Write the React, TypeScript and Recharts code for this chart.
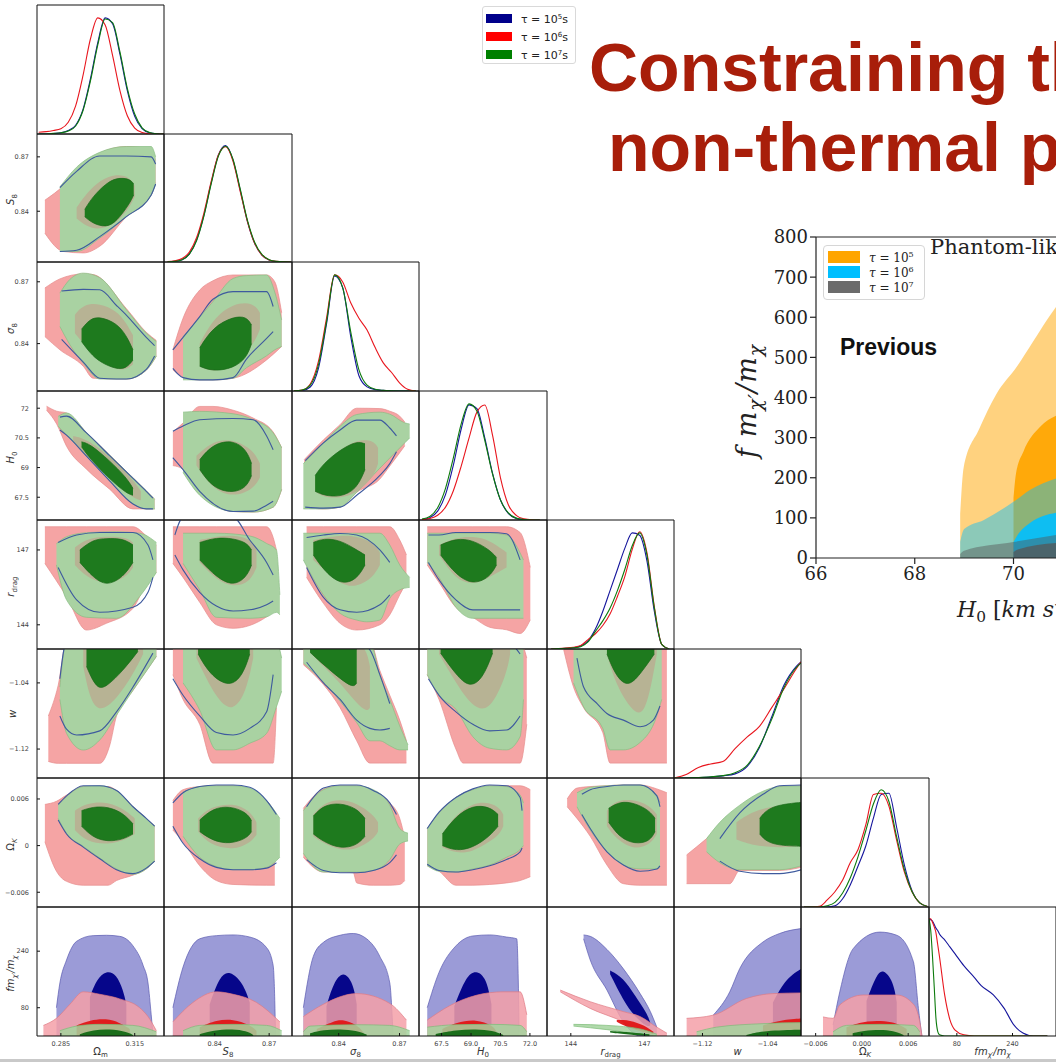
import React from 'react';
import { ComposedChart, LineChart, Line, Area, XAxis, YAxis } from 'recharts';

type Range = [number, number, number];
type Contours = { [key: string]: Range[] };

// panel edges of the triangle grid
const COL_X = [37, 164, 292, 419, 547, 674, 801, 929, 1056];
const ROW_Y = [5, 134, 262, 391, 520, 649, 778, 907, 1036];

// parameter order: Ωm, S8, σ8, H0, r_drag, w, ΩK, f mχ'/mχ
const DOMAINS: [number, number][] = [
  [0.2753, 0.3269], [0.812, 0.8826], [0.817, 0.8796], [66.35, 72.87],
  [143.03, 148.2], [-1.155, -0.999], [-0.0079, 0.0087], [0, 365],
];
const TICKS = [
  [0.285, 0.315], [0.84, 0.87], [0.84, 0.87], [67.5, 69, 70.5, 72],
  [144, 147], [-1.12, -1.04], [-0.006, 0, 0.006], [80, 240],
];
const X_TICK_LABELS = [
  ['0.285', '0.315'], ['0.84', '0.87'], ['0.84', '0.87'], ['67.5', '69.0', '70.5', '72.0'],
  ['144', '147'], ['−1.12', '−1.04'], ['−0.006', '0.000', '0.006'], ['80', '240'],
];
const Y_TICK_LABELS = [
  [], ['0.84', '0.87'], ['0.84', '0.87'], ['67.5', '69', '70.5', '72'],
  ['144', '147'], ['−1.12', '−1.04'], ['−0.006', '0', '0.006'], ['80', '240'],
];

// ---- 1D marginal posteriors (b: τ=1e5, r: τ=1e6, g: τ=1e7) ----
const om_x = [0.276, 0.279, 0.282, 0.285, 0.288, 0.291, 0.294, 0.297, 0.3, 0.303, 0.306, 0.309, 0.312, 0.315, 0.318, 0.321, 0.324, 0.327];
const om_b = [0, 0, 0.004, 0.01, 0.03, 0.075, 0.21, 0.47, 0.78, 0.99, 0.94, 0.68, 0.37, 0.15, 0.045, 0.01, 0.002, 0];
const om_r = [0.015, 0.02, 0.03, 0.045, 0.1, 0.24, 0.5, 0.81, 0.99, 0.93, 0.67, 0.37, 0.155, 0.05, 0.012, 0.002, 0, 0];
const om_g = [0, 0, 0.005, 0.01, 0.025, 0.068, 0.2, 0.45, 0.76, 0.98, 0.95, 0.7, 0.39, 0.17, 0.053, 0.013, 0.002, 0];

const s8_x = [0.814, 0.818, 0.822, 0.826, 0.83, 0.834, 0.838, 0.842, 0.846, 0.85, 0.854, 0.858, 0.862, 0.866, 0.87, 0.874, 0.878, 0.882];
const s8_b = [0.001, 0.005, 0.02, 0.07, 0.19, 0.4, 0.68, 0.92, 1.0, 0.88, 0.62, 0.35, 0.16, 0.06, 0.017, 0.004, 0.001, 0];
const s8_r = [0.003, 0.01, 0.03, 0.085, 0.21, 0.42, 0.69, 0.92, 0.99, 0.87, 0.61, 0.35, 0.16, 0.06, 0.018, 0.005, 0.001, 0];
const s8_g = [0.001, 0.005, 0.02, 0.068, 0.185, 0.395, 0.67, 0.91, 0.995, 0.885, 0.63, 0.36, 0.17, 0.065, 0.02, 0.005, 0.001, 0];

const sg_x = [0.818, 0.822, 0.826, 0.83, 0.834, 0.838, 0.842, 0.846, 0.85, 0.854, 0.858, 0.862, 0.866, 0.87, 0.874, 0.878];
const sg_b = [0, 0.004, 0.034, 0.19, 0.57, 0.98, 0.88, 0.46, 0.13, 0.035, 0.012, 0.005, 0, 0, 0, 0];
const sg_r = [0.001, 0.008, 0.06, 0.25, 0.62, 0.99, 0.93, 0.75, 0.62, 0.52, 0.37, 0.24, 0.16, 0.07, 0.015, 0];
const sg_g = [0.001, 0.008, 0.05, 0.22, 0.59, 0.99, 0.88, 0.5, 0.18, 0.05, 0.015, 0.005, 0.001, 0, 0, 0];

const h0_x = [66.5, 66.9, 67.3, 67.7, 68.1, 68.5, 68.9, 69.3, 69.7, 70.1, 70.5, 70.9, 71.3, 71.7, 72.1, 72.5];
const h0_b = [0.004, 0.02, 0.076, 0.216, 0.468, 0.776, 0.982, 0.95, 0.7, 0.395, 0.17, 0.056, 0.014, 0.003, 0, 0];
const h0_r = [0.003, 0.012, 0.04, 0.11, 0.25, 0.46, 0.7, 0.92, 0.98, 0.72, 0.36, 0.13, 0.04, 0.01, 0.002, 0];
const h0_g = [0.008, 0.03, 0.105, 0.27, 0.53, 0.82, 0.99, 0.93, 0.68, 0.39, 0.17, 0.06, 0.016, 0.004, 0, 0];

const rd_x = [143.2, 143.5, 143.8, 144.1, 144.4, 144.7, 145.0, 145.3, 145.6, 145.9, 146.2, 146.5, 146.8, 147.1, 147.4, 147.7, 148.0];
const rd_b = [0, 0.002, 0.005, 0.01, 0.025, 0.07, 0.17, 0.32, 0.5, 0.68, 0.86, 0.99, 0.97, 0.75, 0.32, 0.04, 0];
const rd_r = [0, 0.003, 0.008, 0.015, 0.03, 0.08, 0.13, 0.2, 0.3, 0.45, 0.62, 0.85, 1.0, 0.82, 0.36, 0.04, 0];
const rd_g = [0, 0.003, 0.006, 0.01, 0.02, 0.06, 0.15, 0.24, 0.35, 0.5, 0.68, 0.88, 0.99, 0.8, 0.35, 0.04, 0];

const w_x = [-1.155, -1.14, -1.125, -1.11, -1.095, -1.08, -1.065, -1.05, -1.035, -1.02, -1.005, -0.999];
const w_b = [0, 0, 0.003, 0.008, 0.018, 0.035, 0.1, 0.26, 0.52, 0.79, 0.95, 0.99];
const w_r = [0, 0.03, 0.09, 0.12, 0.14, 0.25, 0.35, 0.44, 0.6, 0.76, 0.93, 0.99];
const w_g = [0, 0, 0.004, 0.01, 0.02, 0.045, 0.11, 0.27, 0.5, 0.77, 0.94, 0.98];

const ok_x = [-0.0075, -0.0065, -0.0055, -0.0045, -0.0035, -0.0025, -0.0015, -0.0005, 0.0005, 0.0015, 0.0025, 0.0035, 0.0045, 0.0055, 0.0065, 0.0075, 0.0085];
const ok_b = [0, 0, 0, 0, 0.01, 0.07, 0.19, 0.35, 0.52, 0.76, 0.96, 0.97, 0.68, 0.36, 0.14, 0.035, 0.005];
const ok_r = [0, 0, 0.005, 0.06, 0.13, 0.23, 0.38, 0.49, 0.7, 0.96, 0.97, 0.86, 0.57, 0.3, 0.13, 0.035, 0.005];
const ok_g = [0, 0, 0, 0.01, 0.04, 0.12, 0.25, 0.43, 0.65, 0.88, 1.0, 0.9, 0.6, 0.32, 0.13, 0.035, 0.005];

const fm_x = [0, 5, 10, 15, 20, 25, 30, 45, 60, 75, 100, 130, 150, 185, 215, 245, 270, 300, 340];
const fm_b = [1.0, 0.99, 0.98, 0.95, 0.92, 0.9, 0.87, 0.82, 0.76, 0.7, 0.6, 0.5, 0.43, 0.35, 0.24, 0.09, 0.025, 0, 0];
const fm_r = [1.0, 1.0, 0.97, 0.93, 0.88, 0.78, 0.68, 0.35, 0.14, 0.05, 0.01, 0, 0, 0, 0, 0, 0, 0, 0];
const fm_g = [1.0, 0.9, 0.68, 0.42, 0.15, 0.04, 0.01, 0, 0, 0, 0, 0, 0, 0, 0, 0, 0, 0, 0];

const MARGINALS = [
  [om_x, om_b, om_r, om_g], [s8_x, s8_b, s8_r, s8_g], [sg_x, sg_b, sg_r, sg_g], [h0_x, h0_b, h0_r, h0_g],
  [rd_x, rd_b, rd_r, rd_g], [w_x, w_b, w_r, w_g], [ok_x, ok_b, ok_r, ok_g], [fm_x, fm_b, fm_r, fm_g],
];

// ---- 2D contours: [x, lower, upper]; *2 = 95% region, *1 = 68% region ----
const j_s8_om: Contours = {
  r2: [[0.2785, 0.8279, 0.8461], [0.286, 0.8178, 0.854], [0.2941, 0.817, 0.8662], [0.3008, 0.8207, 0.872], [0.3116, 0.837, 0.8757], [0.3217, 0.849, 0.874], [0.3235, 0.856, 0.868]],
  g2: [[0.2846, 0.8178, 0.8534], [0.2914, 0.8178, 0.8643], [0.3008, 0.8252, 0.8725], [0.3116, 0.837, 0.8757], [0.3217, 0.8489, 0.8757], [0.3235, 0.855, 0.87]],
  r1: [[0.2914, 0.836, 0.842], [0.2954, 0.8315, 0.8498], [0.3008, 0.8297, 0.8571], [0.3076, 0.8333, 0.8607], [0.313, 0.8424, 0.8589], [0.315, 0.848, 0.854]],
  g1: [[0.2947, 0.837, 0.841], [0.2979, 0.8333, 0.848], [0.3033, 0.831, 0.8553], [0.3076, 0.8342, 0.8585], [0.313, 0.8443, 0.858], [0.3146, 0.849, 0.855]],
  b2: [[0.2846, 0.8178, 0.853], [0.2914, 0.8185, 0.862], [0.3008, 0.826, 0.8705], [0.3116, 0.837, 0.8705], [0.3217, 0.849, 0.87], [0.3235, 0.855, 0.866]],
};
const j_sg_om: Contours = {
  r2: [[0.2785, 0.8434, 0.867], [0.2846, 0.837, 0.8714], [0.2941, 0.829, 0.8738], [0.2981, 0.8232, 0.8735], [0.3116, 0.8228, 0.857], [0.3197, 0.8271, 0.8455], [0.3238, 0.834, 0.8415]],
  g2: [[0.2846, 0.8483, 0.8645], [0.2887, 0.8394, 0.8712], [0.2941, 0.8305, 0.8742], [0.3008, 0.8228, 0.872], [0.3116, 0.8228, 0.8565], [0.3197, 0.8271, 0.8451], [0.3238, 0.834, 0.841]],
  r1: [[0.2907, 0.845, 0.854], [0.2941, 0.84, 0.859], [0.3008, 0.832, 0.8596], [0.3076, 0.8273, 0.856], [0.3116, 0.8273, 0.85], [0.3143, 0.83, 0.844]],
  g1: [[0.2934, 0.841, 0.847], [0.2968, 0.8355, 0.852], [0.3008, 0.831, 0.8531], [0.3076, 0.8275, 0.85], [0.3116, 0.828, 0.844], [0.3143, 0.832, 0.837]],
  b2: [[0.2853, 0.842, 0.8655], [0.2941, 0.831, 0.8663], [0.3008, 0.8232, 0.8661], [0.3076, 0.8228, 0.8585], [0.3116, 0.8228, 0.8538], [0.3197, 0.8275, 0.843], [0.3231, 0.834, 0.839]],
};
const j_sg_s8: Contours = {
  r2: [[0.8169, 0.8273, 0.837], [0.8225, 0.8238, 0.8523], [0.8317, 0.8224, 0.866], [0.839, 0.8224, 0.8705], [0.8501, 0.8232, 0.8733], [0.8686, 0.8321, 0.8733], [0.8731, 0.8355, 0.87], [0.8769, 0.8386, 0.855]],
  g2: [[0.8225, 0.8224, 0.8434], [0.8317, 0.8224, 0.8528], [0.839, 0.8224, 0.8604], [0.8501, 0.8232, 0.8716], [0.8575, 0.8283, 0.873], [0.8686, 0.8341, 0.8733], [0.8731, 0.837, 0.865], [0.8769, 0.8386, 0.8515]],
  r1: [[0.8317, 0.829, 0.84], [0.839, 0.826, 0.852], [0.8501, 0.829, 0.8595], [0.8612, 0.839, 0.86], [0.8649, 0.847, 0.855]],
  g1: [[0.8317, 0.829, 0.838], [0.839, 0.8265, 0.848], [0.8501, 0.828, 0.8531], [0.8575, 0.833, 0.8531], [0.8603, 0.84, 0.849]],
  b2: [[0.8169, 0.828, 0.837], [0.8225, 0.8235, 0.843], [0.8317, 0.8224, 0.8531], [0.839, 0.8224, 0.8615], [0.8501, 0.8235, 0.8652], [0.8575, 0.8325, 0.8652], [0.8686, 0.8425, 0.8652], [0.8722, 0.8458, 0.858]],
};
const j_h0_om: Contours = {
  r2: [[0.2792, 71.9, 72.1], [0.2833, 71.2, 71.85], [0.2873, 70.08, 71.76], [0.2954, 68.92, 70.77], [0.3048, 67.91, 69.63], [0.3143, 66.91, 68.48], [0.3231, 66.91, 67.4]],
  g2: [[0.2839, 71.09, 71.59], [0.2873, 70.64, 71.76], [0.2954, 69.58, 70.77], [0.3048, 68.33, 69.63], [0.3143, 67.16, 68.48], [0.3197, 66.91, 67.83], [0.3231, 66.91, 67.4]],
  r1: [[0.29, 70.35, 70.6], [0.2954, 69.6, 70.45], [0.3048, 68.45, 69.6], [0.3143, 67.45, 68.4], [0.3175, 67.35, 67.8]],
  g1: [[0.2934, 70.05, 70.3], [0.2968, 69.45, 70.2], [0.3048, 68.42, 69.35], [0.3116, 67.7, 68.5], [0.3143, 67.6, 67.95]],
  b2: [[0.2846, 70.9, 71.55], [0.2873, 70.64, 71.6], [0.2954, 69.58, 70.75], [0.3048, 68.33, 69.6], [0.3143, 67.16, 68.45], [0.3197, 66.91, 67.8], [0.3224, 66.91, 67.45]],
};
const j_h0_s8: Contours = {
  r2: [[0.8169, 69.1, 70.8], [0.8225, 68.92, 71.25], [0.8317, 67.75, 72.09], [0.839, 67.16, 72.09], [0.8501, 66.78, 71.9], [0.8612, 66.75, 71.5], [0.8722, 67.0, 70.8], [0.8769, 67.9, 70.0]],
  g2: [[0.8225, 68.75, 71.8], [0.8317, 67.6, 71.84], [0.8501, 66.78, 71.72], [0.8612, 66.75, 71.42], [0.8722, 67.0, 70.76], [0.8769, 67.9, 70.0]],
  r1: [[0.8299, 69.1, 69.6], [0.839, 67.9, 70.35], [0.8501, 67.5, 70.45], [0.8612, 67.9, 69.9], [0.8649, 68.5, 69.2]],
  g1: [[0.8317, 68.9, 69.4], [0.839, 67.95, 70.2], [0.8501, 67.7, 70.4], [0.8575, 68.0, 69.9], [0.8603, 68.6, 69.2]],
  b2: [[0.8169, 69.5, 70.84], [0.8225, 68.9, 71.1], [0.8317, 67.8, 71.42], [0.8501, 66.78, 71.48], [0.8612, 66.8, 71.42], [0.8686, 67.1, 70.6], [0.8722, 67.3, 69.9]],
};
const j_h0_sg: Contours = {
  r2: [[0.823, 67.0, 69.4], [0.8325, 66.91, 70.4], [0.8407, 67.0, 71.17], [0.8489, 67.75, 72.0], [0.8603, 68.42, 71.98], [0.8652, 69.08, 71.85], [0.8701, 69.75, 71.6], [0.8726, 70.1, 71.3]],
  g2: [[0.8226, 66.91, 69.2], [0.8284, 66.91, 69.8], [0.8325, 66.91, 70.25], [0.8407, 67.0, 71.09], [0.8489, 67.75, 71.68], [0.8603, 68.97, 71.8], [0.8652, 69.48, 71.7], [0.8726, 70.25, 71.26], [0.875, 70.5, 71.2]],
  r1: [[0.8284, 67.8, 68.4], [0.8325, 67.5, 69.0], [0.8407, 67.45, 69.9], [0.8489, 67.7, 70.4], [0.857, 68.5, 70.4], [0.8594, 69.2, 70.0]],
  g1: [[0.8284, 67.8, 68.6], [0.8325, 67.6, 69.2], [0.8407, 67.5, 69.9], [0.8489, 67.9, 70.34], [0.853, 68.9, 70.2]],
  b2: [[0.8235, 67.0, 69.35], [0.8325, 66.95, 70.25], [0.8407, 67.0, 70.9], [0.8489, 67.6, 71.4], [0.8603, 68.6, 71.4], [0.8652, 69.2, 71.0], [0.8685, 69.8, 70.6]],
};
const j_rd_om: Contours = {
  r2: [[0.2785, 146.46, 147.93], [0.2873, 145.13, 147.93], [0.2954, 143.79, 147.93], [0.3035, 144.06, 147.93], [0.3143, 144.66, 147.93], [0.3204, 145.79, 147.5], [0.3238, 146.1, 147.2]],
  g2: [[0.2832, 146.4, 147.25], [0.2873, 145.0, 147.53], [0.2954, 144.3, 147.69], [0.3076, 144.26, 147.73], [0.317, 145.13, 147.67], [0.3238, 146.1, 147.3]],
  r1: [[0.2907, 146.4, 147.1], [0.2954, 145.9, 147.45], [0.3035, 145.6, 147.55], [0.3116, 145.9, 147.5], [0.3143, 146.3, 147.3]],
  g1: [[0.2927, 146.5, 147.0], [0.2981, 145.9, 147.42], [0.3035, 145.55, 147.46], [0.3103, 145.9, 147.46], [0.3143, 146.5, 147.2]],
  b2: [[0.2839, 146.3, 147.3], [0.2914, 145.0, 147.6], [0.3008, 144.5, 147.7], [0.3143, 144.7, 147.7], [0.3204, 145.3, 147.2], [0.3224, 145.9, 146.6]],
};
const j_rd_s8: Contours = {
  r2: [[0.8169, 146.46, 147.93], [0.8225, 145.9, 147.93], [0.8317, 144.9, 147.93], [0.8409, 144.0, 147.93], [0.8501, 143.86, 147.93], [0.8686, 144.32, 147.93], [0.8722, 144.72, 147.5], [0.874, 145.0, 147.0]],
  g2: [[0.8225, 146.46, 147.67], [0.8317, 145.4, 147.67], [0.8409, 144.3, 147.67], [0.8593, 144.26, 147.56], [0.8686, 144.32, 147.26], [0.874, 144.5, 147.0], [0.8759, 144.4, 145.2]],
  r1: [[0.8317, 146.5, 147.4], [0.8409, 145.8, 147.55], [0.8501, 145.5, 147.6], [0.8593, 145.7, 147.45], [0.863, 146.3, 147.1]],
  g1: [[0.8317, 146.6, 147.3], [0.8409, 145.9, 147.5], [0.8501, 145.55, 147.46], [0.8575, 145.9, 147.3], [0.8603, 146.4, 147.0]],
  b2: [[0.818, 146.8, 147.6], [0.8225, 146.2, 148.3], [0.8317, 145.3, 148.3], [0.8409, 144.75, 148.3], [0.8501, 144.55, 148.3], [0.8593, 144.6, 147.4], [0.8686, 144.8, 146.5], [0.8722, 144.95, 146.0]],
};
const j_rd_sg: Contours = {
  r2: [[0.8242, 145.9, 147.93], [0.8325, 144.86, 147.93], [0.8407, 144.06, 147.93], [0.8489, 143.79, 147.93], [0.8603, 144.0, 147.93], [0.8652, 144.4, 147.93], [0.8701, 145.2, 147.4], [0.8734, 145.7, 146.8]],
  g2: [[0.8226, 146.6, 147.67], [0.8325, 145.2, 147.67], [0.8407, 144.46, 147.67], [0.8489, 144.19, 147.67], [0.8538, 144.12, 147.67], [0.8603, 144.19, 147.67], [0.8652, 145.06, 147.2], [0.8701, 145.4, 146.4], [0.875, 145.5, 145.9]],
  r1: [[0.8275, 146.6, 147.4], [0.8407, 145.6, 147.6], [0.8489, 145.5, 147.55], [0.857, 145.9, 147.3], [0.8603, 146.4, 146.9]],
  g1: [[0.8275, 146.8, 147.3], [0.8325, 146.2, 147.46], [0.8407, 145.6, 147.4], [0.8489, 145.8, 147.0], [0.853, 146.4, 146.8]],
  b2: [[0.8242, 146.3, 147.5], [0.8325, 145.1, 147.6], [0.8407, 144.6, 147.66], [0.8489, 144.5, 147.6], [0.8603, 144.8, 147.0], [0.8652, 145.2, 146.5]],
};
const j_rd_h0: Contours = {
  r2: [[66.77, 146.4, 147.93], [67.37, 145.7, 147.93], [68.23, 144.7, 147.93], [69.09, 144.3, 147.93], [69.95, 143.9, 147.93], [70.81, 143.8, 147.93], [71.5, 143.65, 147.7], [72.02, 144.2, 146.3]],
  g2: [[66.77, 146.5, 147.67], [67.37, 145.9, 147.67], [68.23, 144.7, 147.67], [69.09, 144.26, 147.67], [69.95, 144.26, 147.67], [70.81, 144.26, 147.6], [71.67, 144.26, 146.6]],
  r1: [[67.37, 146.8, 147.2], [68.23, 145.8, 147.5], [69.09, 145.6, 147.55], [69.95, 145.9, 147.4], [70.81, 146.3, 146.9]],
  g1: [[67.45, 146.8, 147.2], [68.23, 146.0, 147.46], [69.09, 145.6, 147.4], [69.95, 145.9, 147.0], [70.3, 146.4, 146.7]],
  b2: [[66.83, 146.5, 147.6], [67.37, 145.8, 147.6], [68.23, 145.0, 147.7], [69.09, 144.6, 147.7], [69.95, 144.6, 147.7], [70.81, 144.6, 147.65], [71.5, 144.6, 146.6]],
};
const j_w_om: Contours = {
  r2: [[0.2799, -1.135, -1.08], [0.2839, -1.1373, -1.043], [0.2873, -1.1373, -0.99], [0.3008, -1.1373, -0.99], [0.3049, -1.115, -0.99], [0.3076, -1.08, -0.99], [0.3143, -1.049, -0.99], [0.3238, -1.008, -0.99]],
  g2: [[0.2846, -1.06, -1.045], [0.2873, -1.101, -0.99], [0.2941, -1.1212, -0.99], [0.3008, -1.109, -0.99], [0.3076, -1.079, -0.99], [0.3143, -1.049, -0.99], [0.3204, -1.023, -0.99], [0.3238, -1.008, -0.99]],
  r1: [[0.2941, -1.02, -0.99], [0.2968, -1.06, -0.99], [0.3008, -1.076, -0.99], [0.3076, -1.06, -0.99], [0.3143, -1.03, -0.99], [0.3184, -1.005, -0.99]],
  g1: [[0.2954, -1.02, -0.99], [0.2995, -1.048, -0.99], [0.3035, -1.045, -0.99], [0.3103, -1.025, -0.99], [0.3163, -1.002, -0.99]],
  b2: [[0.2846, -1.08, -1.035], [0.2873, -1.096, -0.99], [0.2914, -1.103, -0.99], [0.3008, -1.098, -0.99], [0.3076, -1.075, -0.99], [0.3143, -1.045, -0.99], [0.3224, -1.004, -0.99]],
};
const j_w_s8: Contours = {
  r2: [[0.8169, -1.03, -0.99], [0.8225, -1.06, -0.99], [0.8317, -1.09, -0.99], [0.839, -1.137, -0.99], [0.8722, -1.137, -0.99], [0.874, -1.07, -0.99]],
  g2: [[0.8225, -1.04, -0.99], [0.8317, -1.073, -0.99], [0.8409, -1.121, -0.99], [0.8501, -1.121, -0.99], [0.8593, -1.113, -0.99], [0.8686, -1.101, -0.99], [0.874, -1.069, -0.99], [0.8769, -1.05, -1.01]],
  r1: [[0.8299, -1.01, -0.99], [0.8409, -1.06, -0.99], [0.8501, -1.076, -0.99], [0.8575, -1.05, -0.99], [0.8612, -1.01, -0.99]],
  g1: [[0.8308, -1.005, -0.99], [0.8372, -1.03, -0.99], [0.8482, -1.046, -0.99], [0.8557, -1.03, -0.99], [0.8593, -1.005, -0.99]],
  b2: [[0.8169, -1.035, -0.99], [0.8225, -1.055, -0.99], [0.8317, -1.08, -0.99], [0.8409, -1.1, -0.99], [0.8501, -1.103, -0.99], [0.8593, -1.095, -0.99], [0.8686, -1.075, -0.99], [0.8722, -1.03, -0.99]],
};
const j_w_sg: Contours = {
  r2: [[0.8226, -1.018, -0.99], [0.8325, -1.042, -0.99], [0.8407, -1.07, -0.99], [0.8489, -1.11, -0.99], [0.8554, -1.137, -0.99], [0.8603, -1.137, -1.025], [0.8652, -1.137, -1.055], [0.8701, -1.137, -1.085], [0.8734, -1.137, -1.11]],
  g2: [[0.8226, -1.016, -0.99], [0.8325, -1.039, -0.99], [0.8407, -1.062, -0.99], [0.8489, -1.088, -0.99], [0.8554, -1.11, -0.99], [0.8603, -1.11, -1.031], [0.8652, -1.116, -1.06], [0.8701, -1.121, -1.092], [0.8742, -1.121, -1.115]],
  r1: [[0.8259, -1.003, -0.99], [0.8325, -1.02, -0.99], [0.8407, -1.04, -0.99], [0.8489, -1.065, -0.99], [0.8538, -1.075, -1.0], [0.8554, -1.07, -1.02]],
  g1: [[0.8259, -1.003, -0.99], [0.8325, -1.018, -0.99], [0.8407, -1.035, -0.99], [0.8472, -1.046, -0.99], [0.8489, -1.04, -1.0]],
  b2: [[0.8242, -1.015, -0.99], [0.8325, -1.04, -0.99], [0.8407, -1.06, -0.99], [0.8489, -1.085, -0.99], [0.8554, -1.095, -1.0], [0.8603, -1.097, -1.03], [0.8652, -1.095, -1.065]],
};
const j_w_h0: Contours = {
  r2: [[66.77, -1.03, -0.99], [67.37, -1.06, -0.99], [68.23, -1.12, -0.99], [68.6, -1.137, -0.99], [71.5, -1.137, -0.99], [71.84, -1.09, -1.01]],
  g2: [[66.77, -1.03, -0.99], [67.37, -1.055, -0.99], [68.23, -1.072, -0.99], [69.09, -1.105, -0.99], [69.95, -1.119, -0.99], [70.81, -1.121, -0.99], [71.5, -1.105, -0.99], [71.67, -1.06, -1.0]],
  r1: [[67.37, -1.005, -0.99], [68.23, -1.04, -0.99], [69.09, -1.07, -0.99], [69.95, -1.075, -0.99], [70.81, -1.03, -0.99], [70.99, -1.005, -0.99]],
  g1: [[67.45, -1.004, -0.99], [68.23, -1.03, -0.99], [68.92, -1.046, -0.99], [69.6, -1.035, -0.99], [70.1, -1.004, -0.99]],
  b2: [[66.83, -1.035, -0.99], [67.37, -1.055, -0.99], [68.23, -1.075, -0.99], [69.09, -1.09, -0.99], [69.95, -1.098, -0.99], [70.81, -1.097, -0.99], [71.5, -1.08, -1.005]],
};
const j_w_rd: Contours = {
  r2: [[143.71, -1.0, -0.99], [144.11, -1.045, -0.99], [144.52, -1.07, -0.99], [145.3, -1.1, -0.99], [145.6, -1.137, -0.99], [147.91, -1.137, -0.99]],
  g2: [[144.11, -1.04, -0.99], [144.52, -1.069, -0.99], [145.3, -1.095, -0.99], [145.6, -1.121, -0.99], [146.14, -1.121, -0.99], [146.82, -1.112, -0.99], [147.5, -1.08, -0.99], [147.7, -1.06, -0.99]],
  r1: [[145.47, -1.005, -0.99], [145.8, -1.04, -0.99], [146.5, -1.075, -0.99], [147.0, -1.08, -0.99], [147.36, -1.03, -0.99], [147.5, -1.005, -0.99]],
  g1: [[145.47, -1.005, -0.99], [145.8, -1.03, -0.99], [146.3, -1.046, -0.99], [146.82, -1.03, -0.99], [147.4, -1.005, -0.99]],
  b2: [[144.25, -1.01, -0.99], [144.52, -1.045, -0.99], [145.07, -1.065, -0.99], [145.47, -1.077, -0.99], [146.14, -1.085, -0.99], [146.82, -1.093, -0.99], [147.36, -1.085, -0.99], [147.63, -1.068, -0.99]],
};
const j_ok_om: Contours = {
  r2: [[0.2785, 0.0005, 0.0053], [0.2832, -0.0033, 0.0057], [0.2873, -0.0046, 0.0065], [0.2941, -0.0051, 0.0076], [0.3042, -0.0051, 0.0076], [0.3076, -0.0045, 0.0071], [0.3143, -0.0038, 0.005], [0.3197, -0.003, 0.0035], [0.3231, -0.002, 0.0025]],
  g2: [[0.2839, 0.0035, 0.0052], [0.2873, 0.0016, 0.0063], [0.2941, -0.0001, 0.0076], [0.3008, -0.0016, 0.0077], [0.3076, -0.003, 0.0071], [0.3143, -0.0037, 0.005], [0.3197, -0.003, 0.0035], [0.3231, -0.002, 0.0025]],
  r1: [[0.2907, 0.002, 0.0045], [0.2954, 0.0005, 0.0055], [0.3042, 0.0001, 0.0057], [0.3116, 0.0008, 0.0045], [0.315, 0.0015, 0.0035]],
  g1: [[0.2934, 0.0025, 0.0045], [0.2981, 0.001, 0.005], [0.3042, 0.0005, 0.005], [0.3103, 0.0008, 0.0042], [0.3143, 0.0015, 0.0028]],
  b2: [[0.2839, 0.0033, 0.0053], [0.2873, 0.0015, 0.0064], [0.2941, -0.0002, 0.0077], [0.3008, -0.0017, 0.0077], [0.3076, -0.0031, 0.0071], [0.3143, -0.0036, 0.005], [0.3197, -0.0029, 0.0035], [0.3231, -0.002, 0.0025]],
};
const j_ok_s8: Contours = {
  r2: [[0.8169, 0.002, 0.0058], [0.8225, 0.0005, 0.0072], [0.8317, -0.0026, 0.0076], [0.8409, -0.0045, 0.0077], [0.8501, -0.005, 0.0077], [0.8686, -0.0051, 0.0058], [0.8731, -0.0051, 0.0042]],
  g2: [[0.8225, 0.0012, 0.0069], [0.8317, -0.0015, 0.0076], [0.8409, -0.0027, 0.0077], [0.8501, -0.0031, 0.0077], [0.8593, -0.0031, 0.0074], [0.8686, -0.0028, 0.0058], [0.8759, -0.0015, 0.0035]],
  r1: [[0.8308, 0.0018, 0.0035], [0.8372, 0.0001, 0.005], [0.8501, -0.0006, 0.0055], [0.8593, 0.0003, 0.0045], [0.863, 0.0014, 0.003]],
  g1: [[0.8317, 0.0018, 0.0033], [0.839, 0.0006, 0.0048], [0.8482, 0.0002, 0.0051], [0.8575, 0.0009, 0.0043], [0.8603, 0.0018, 0.0032]],
  b2: [[0.8169, 0.0025, 0.0055], [0.8225, 0.0003, 0.0068], [0.8317, -0.0017, 0.0076], [0.8409, -0.0028, 0.0078], [0.8501, -0.0031, 0.0078], [0.8593, -0.0031, 0.0075], [0.8686, -0.0029, 0.0058], [0.874, -0.0022, 0.004]],
};
const j_ok_sg: Contours = {
  r2: [[0.8226, -0.0015, 0.0048], [0.8325, -0.0034, 0.0073], [0.8407, -0.0034, 0.0077], [0.8472, -0.0035, 0.0077], [0.8489, -0.0048, 0.0077], [0.857, -0.0051, 0.007], [0.8652, -0.0051, 0.0055], [0.8701, -0.005, 0.0035], [0.8726, -0.0045, 0.001]],
  g2: [[0.8226, -0.001, 0.0045], [0.8325, -0.0034, 0.0072], [0.8407, -0.0034, 0.0077], [0.8489, -0.0034, 0.0077], [0.857, -0.0032, 0.0072], [0.8652, -0.0018, 0.0052], [0.8701, 0.0002, 0.0022], [0.8742, 0.0006, 0.0016]],
  r1: [[0.8275, 0.0012, 0.004], [0.8325, 0.0003, 0.0055], [0.8407, -0.0006, 0.006], [0.8489, -0.0005, 0.0055], [0.857, 0.0008, 0.004], [0.8594, 0.0018, 0.003]],
  g1: [[0.8275, 0.0015, 0.0038], [0.8325, 0.0005, 0.0052], [0.8407, -0.0004, 0.0055], [0.8489, 0.0, 0.0048], [0.853, 0.0012, 0.0035]],
  b2: [[0.8242, -0.0018, 0.005], [0.8325, -0.0032, 0.0074], [0.8407, -0.0035, 0.0078], [0.8489, -0.0035, 0.0078], [0.857, -0.0032, 0.0071], [0.8652, -0.0022, 0.0055], [0.8685, -0.0012, 0.004]],
};
const j_ok_h0: Contours = {
  r2: [[66.77, -0.0026, 0.0022], [67.37, -0.0033, 0.0042], [68.23, -0.0051, 0.0062], [69.09, -0.0051, 0.0072], [69.95, -0.005, 0.0077], [70.81, -0.0048, 0.0077], [71.5, -0.0045, 0.0077], [72.02, -0.004, 0.0072]],
  g2: [[66.77, -0.0026, 0.0022], [67.37, -0.0033, 0.0042], [68.23, -0.0034, 0.0062], [69.09, -0.003, 0.0072], [69.95, -0.0025, 0.0077], [70.81, -0.0015, 0.0076], [71.5, -0.0005, 0.0065], [71.67, 0.0, 0.0055]],
  r1: [[67.54, -0.0002, 0.0015], [68.23, -0.001, 0.004], [69.09, -0.0008, 0.0055], [69.95, 0.0005, 0.0056], [70.47, 0.0015, 0.0048], [70.64, 0.0025, 0.004]],
  g1: [[67.54, 0.0, 0.0015], [68.23, -0.0007, 0.0038], [69.09, -0.0003, 0.0052], [69.95, 0.0012, 0.005], [70.38, 0.0025, 0.004]],
  b2: [[66.77, -0.0024, 0.0022], [67.37, -0.0032, 0.0043], [68.23, -0.0034, 0.0062], [69.09, -0.0031, 0.0073], [69.95, -0.0026, 0.0078], [70.81, -0.0018, 0.0077], [71.5, -0.0008, 0.0062], [71.6, -0.0003, 0.0045]],
};
const j_ok_rd: Contours = {
  r2: [[143.85, 0.005, 0.006], [144.25, 0.0035, 0.0074], [144.79, 0.0012, 0.0076], [145.47, -0.0025, 0.0077], [146.14, -0.0049, 0.0078], [146.82, -0.0051, 0.0078], [147.5, -0.0051, 0.0073], [147.91, -0.0051, 0.0068]],
  g2: [[144.25, 0.005, 0.0068], [144.79, 0.002, 0.0075], [145.47, -0.0008, 0.0077], [146.14, -0.0025, 0.0078], [146.82, -0.003, 0.0078], [147.5, -0.003, 0.0065], [147.63, -0.0028, 0.0055]],
  r1: [[145.47, 0.0025, 0.0045], [145.8, 0.001, 0.0058], [146.5, -0.0005, 0.006], [147.2, 0.0, 0.0052], [147.5, 0.0015, 0.004]],
  g1: [[145.54, 0.003, 0.0048], [146.0, 0.001, 0.0057], [146.6, 0.0002, 0.0055], [147.2, 0.0005, 0.0045], [147.43, 0.0018, 0.0035]],
  b2: [[144.45, 0.004, 0.0066], [144.79, 0.0022, 0.0072], [145.47, -0.0008, 0.0076], [146.14, -0.0025, 0.0078], [146.82, -0.0033, 0.0078], [147.5, -0.003, 0.0064], [147.63, -0.0026, 0.005]],
};
const j_ok_w: Contours = {
  r2: [[-1.1395, -0.0049, -0.0012], [-1.115, -0.0049, 0.0009], [-1.0865, -0.0049, 0.0035], [-1.0742, -0.0032, 0.0045], [-1.0457, -0.0032, 0.0068], [-1.0253, -0.0032, 0.0076], [-0.995, -0.0027, 0.0077]],
  g2: [[-1.115, -0.0008, 0.0009], [-1.0987, -0.0022, 0.003], [-1.0742, -0.0031, 0.0052], [-1.0457, -0.0031, 0.007], [-1.0253, -0.0031, 0.0076], [-0.995, -0.0025, 0.0077]],
  r1: [[-1.0783, 0.0008, 0.003], [-1.0579, 0.0, 0.0045], [-1.0253, -0.0003, 0.0052], [-0.995, 0.0, 0.0054]],
  g1: [[-1.0498, 0.0015, 0.0035], [-1.0416, 0.0005, 0.0046], [-1.0253, 0.0, 0.0053], [-0.995, -0.0001, 0.0056]],
  b2: [[-1.0987, -0.002, 0.0009], [-1.0742, -0.0033, 0.0042], [-1.0457, -0.0036, 0.0066], [-1.0253, -0.0036, 0.0077], [-0.995, -0.003, 0.0078]],
};
const j_fm_om: Contours = {
  b2: [[0.2832, 0, 80], [0.2846, 0, 150], [0.2873, 0, 215], [0.2914, 0, 268], [0.2981, 0, 284], [0.3035, 0, 285], [0.3089, 0, 282], [0.3143, 0, 255], [0.3184, 0, 200], [0.3204, 0, 150], [0.3217, 0, 60], [0.3224, 0, 5]],
  b1: [[0.2968, 0, 110], [0.2995, 0, 160], [0.3035, 0, 186], [0.3076, 0, 175], [0.3103, 0, 130], [0.3116, 0, 90]],
  r2: [[0.2779, 0, 30], [0.2832, 0, 50], [0.2887, 0, 90], [0.2941, 0, 125], [0.3008, 0, 118], [0.3089, 0, 105], [0.317, 0, 80], [0.3204, 0, 55], [0.3238, 0, 15]],
  r1: [[0.2914, 0, 30], [0.2968, 0, 45], [0.3035, 0, 50], [0.3089, 0, 38], [0.313, 0, 20]],
  g2: [[0.2846, 0, 15], [0.2914, 0, 28], [0.3008, 0, 33], [0.3143, 0, 30], [0.3238, 0, 12]],
  g1: [[0.2927, 0, 5], [0.2981, 0, 17], [0.3048, 0, 20], [0.3116, 0, 12], [0.3143, 0, 3]],
};
const j_fm_s8: Contours = {
  b2: [[0.8169, 0, 80], [0.8225, 0, 195], [0.8317, 0, 275], [0.8409, 0, 284], [0.8501, 0, 286], [0.8593, 0, 280], [0.8686, 0, 250], [0.8722, 0, 200], [0.8731, 0, 100], [0.8735, 0, 5]],
  b1: [[0.8372, 0, 90], [0.8427, 0, 170], [0.8482, 0, 186], [0.8556, 0, 150], [0.8593, 0, 95]],
  r2: [[0.8169, 0, 40], [0.828, 0, 95], [0.8409, 0, 125], [0.8501, 0, 118], [0.863, 0, 95], [0.8759, 0, 40]],
  r1: [[0.8317, 0, 25], [0.8409, 0, 45], [0.8501, 0, 48], [0.8593, 0, 32], [0.863, 0, 15]],
  g2: [[0.8225, 0, 15], [0.8317, 0, 30], [0.8501, 0, 33], [0.8686, 0, 30], [0.8769, 0, 15]],
  g1: [[0.8317, 0, 5], [0.839, 0, 16], [0.8501, 0, 20], [0.8575, 0, 14], [0.8612, 0, 3]],
};
const j_fm_sg: Contours = {
  b2: [[0.8226, 0, 80], [0.8275, 0, 225], [0.8325, 0, 265], [0.8407, 0, 285], [0.8472, 0, 290], [0.8538, 0, 275], [0.8603, 0, 225], [0.8652, 0, 150], [0.8668, 0, 5]],
  b1: [[0.834, 0, 85], [0.8374, 0, 150], [0.8423, 0, 186], [0.8472, 0, 150], [0.8489, 0, 90]],
  r2: [[0.8226, 0, 55], [0.8325, 0, 90], [0.8489, 0, 120], [0.8652, 0, 92], [0.8734, 0, 45]],
  r1: [[0.8292, 0, 20], [0.8374, 0, 42], [0.8423, 0, 47], [0.8489, 0, 32], [0.8523, 0, 10]],
  g2: [[0.8226, 0, 12], [0.8259, 0, 28], [0.8489, 0, 32], [0.8652, 0, 30], [0.875, 0, 15]],
  g1: [[0.8259, 0, 8], [0.8325, 0, 17], [0.8407, 0, 20], [0.8489, 0, 15], [0.8538, 0, 4]],
};
const j_fm_h0: Contours = {
  b2: [[66.77, 0, 80], [67.37, 0, 180], [68.23, 0, 255], [69.09, 0, 283], [69.95, 0, 286], [70.81, 0, 280], [71.33, 0, 275], [71.41, 0, 150], [71.45, 0, 10]],
  b1: [[68.15, 0, 85], [68.75, 0, 170], [69.26, 0, 187], [69.78, 0, 165], [70.04, 0, 90]],
  r2: [[66.77, 0, 45], [67.89, 0, 85], [69.26, 0, 115], [70.64, 0, 125], [71.5, 0, 125], [71.84, 0, 60]],
  r1: [[67.54, 0, 20], [68.23, 0, 38], [69.26, 0, 48], [70.12, 0, 30], [70.3, 0, 12]],
  g2: [[66.77, 0, 25], [68.23, 0, 32], [69.95, 0, 33], [71.5, 0, 30], [71.84, 0, 12]],
  g1: [[67.2, 0, 6], [68.23, 0, 17], [69.26, 0, 20], [70.12, 0, 15], [70.64, 0, 3]],
};
const j_fm_rd: Contours = {
  b2: [[144.52, 275, 286], [144.79, 215, 282], [145.47, 130, 245], [146.14, 40, 190], [146.82, 0, 120], [147.23, 0, 70], [147.5, 0, 25]],
  b1: [[145.6, 175, 185], [146.14, 100, 165], [146.6, 55, 115], [147.1, 25, 65], [147.23, 30, 38]],
  r2: [[143.57, 125, 130], [144.79, 78, 97], [146.14, 40, 69], [146.82, 15, 55], [147.5, 0, 25], [147.91, 0, 8]],
  r1: [[145.87, 40, 45], [146.4, 22, 45], [147.0, 10, 30], [147.36, 5, 12]],
  g2: [[144.11, 28, 33], [145.47, 18, 30], [146.82, 5, 20], [147.5, 0, 5]],
  g1: [[145.6, 10, 14], [146.5, 3, 10], [147.2, 0, 5]],
};
const j_fm_w: Contours = {
  b2: [[-1.1068, 0, 59], [-1.0865, 0, 125], [-1.0742, 0, 191], [-1.0457, 0, 266], [-1.0253, 0, 290], [-0.995, 0, 305]],
  b1: [[-1.0335, 0, 95], [-1.0172, 0, 165], [-0.995, 0, 195]],
  r2: [[-1.1395, 0, 50], [-1.1068, 0, 59], [-1.0661, 0, 106], [-1.0335, 0, 120], [-0.995, 0, 122]],
  r1: [[-1.0457, 0, 30], [-1.0253, 0, 45], [-0.995, 0, 50]],
  g2: [[-1.1272, 0, 12], [-1.1028, 0, 25], [-1.0457, 0, 35], [-0.995, 0, 38]],
  g1: [[-1.0661, 0, 3], [-1.0457, 0, 15], [-0.995, 0, 18]],
};
const j_fm_ok: Contours = {
  b2: [[-0.00374, 0, 31], [-0.00287, 0, 125], [-0.00114, 0, 247], [0.00234, 0, 294], [0.00452, 0, 285], [0.00668, 0, 210], [0.00733, 0, 78], [0.00777, 0, 0]],
  b1: [[0.0006, 0, 100], [0.0019, 0, 175], [0.00277, 0, 190], [0.00408, 0, 155], [0.00452, 0, 95]],
  r2: [[-0.00505, 0, 54], [-0.00374, 0, 50], [-0.00287, 0, 88], [0.00017, 0, 116], [0.00452, 0, 116], [0.00668, 0, 90], [0.0075, 0, 40], [0.0078, 0, 0]],
  r1: [[-0.002, 0, 25], [0.0006, 0, 45], [0.0041, 0, 42], [0.0058, 0, 20]],
  g2: [[-0.00374, 0, 12], [-0.002, 0, 30], [0.00234, 0, 33], [0.00668, 0, 30], [0.0075, 0, 12]],
  g1: [[-0.0012, 0, 8], [0.00017, 0, 15], [0.00234, 0, 18], [0.0041, 0, 15], [0.0054, 0, 3]],
};

// [row, col, contours]
const JOINTS: [number, number, Contours][] = [
  [1, 0, j_s8_om],
  [2, 0, j_sg_om], [2, 1, j_sg_s8],
  [3, 0, j_h0_om], [3, 1, j_h0_s8], [3, 2, j_h0_sg],
  [4, 0, j_rd_om], [4, 1, j_rd_s8], [4, 2, j_rd_sg], [4, 3, j_rd_h0],
  [5, 0, j_w_om], [5, 1, j_w_s8], [5, 2, j_w_sg], [5, 3, j_w_h0], [5, 4, j_w_rd],
  [6, 0, j_ok_om], [6, 1, j_ok_s8], [6, 2, j_ok_sg], [6, 3, j_ok_h0], [6, 4, j_ok_rd], [6, 5, j_ok_w],
  [7, 0, j_fm_om], [7, 1, j_fm_s8], [7, 2, j_fm_sg], [7, 3, j_fm_h0], [7, 4, j_fm_rd], [7, 5, j_fm_w], [7, 6, j_fm_ok],
];

// ---- inset: f mχ'/mχ vs H0 ----
const ins_o2: Range[] = [[68.92, 0, 110], [68.99, 0, 225], [69.3, 0, 320], [69.66, 0, 410], [70.07, 0, 477], [70.4, 0, 540], [70.68, 0, 594], [70.9, 0, 632]];
const ins_o1: Range[] = [[70.0, 0, 150], [70.05, 0, 210], [70.2, 0, 265], [70.54, 0, 327], [70.9, 0, 357]];
const ins_c2: Range[] = [[68.92, 0, 40], [69.0, 0, 72], [69.4, 0, 95], [70.0, 0, 140], [70.34, 0, 170], [70.9, 0, 200]];
const ins_c1: Range[] = [[70.0, 0, 40], [70.07, 0, 55], [70.34, 0, 88], [70.9, 0, 114]];
const ins_k2: Range[] = [[68.92, 0, 10], [69.0, 0, 18], [70.0, 0, 40], [70.9, 0, 58]];
const ins_k1: Range[] = [[70.0, 0, 15], [70.1, 0, 22], [70.9, 0, 38]];
const INSET_X_TICKS = [66, 68, 70, 72, 74];
const INSET_Y_TICKS = [0, 100, 200, 300, 400, 500, 600, 700, 800];

const SERIES_COLORS = { b: '#15159c', r: '#e8161e', g: '#0c7a0c' };

// inner (68%) regions use a smoothing spline so they read as ellipses
const UPPER_LAYERS = [
  { key: 'r2', fill: '#f5a4a4', op: 1, stroke: '#e68d8d', curve: 'monotone' },
  { key: 'g2', fill: '#a9d2a2', op: 1, stroke: '#88bd82', curve: 'monotone' },
  { key: 'r1', fill: '#b7b394', op: 1, stroke: 'none', curve: 'basis' },
  { key: 'g1', fill: '#1e7a1e', op: 1, stroke: '#186818', curve: 'basis' },
  { key: 'b2', fill: 'none', op: 0, stroke: '#3e5a9e', curve: 'monotone' },
];
const LOWER_LAYERS = [
  { key: 'b2', fill: '#9b9bd7', op: 1, stroke: '#5a5ab0', curve: 'monotone' },
  { key: 'b1', fill: '#06068a', op: 1, stroke: 'none', curve: 'basis' },
  { key: 'r2', fill: '#f5a0a8', op: 0.85, stroke: '#e07a84', curve: 'monotone' },
  { key: 'r1', fill: '#e01616', op: 0.95, stroke: 'none', curve: 'basis' },
  { key: 'g2', fill: '#a3d39d', op: 0.85, stroke: '#7dbb77', curve: 'monotone' },
  { key: 'g1', fill: '#1b6e1b', op: 1, stroke: 'none', curve: 'basis' },
];

function mergeContours(c: Contours) {
  const rows: any[] = [];
  Object.keys(c).forEach((key) => {
    c[key].forEach(([x, lo, hi]) => rows.push({ x, [key]: [lo, hi] }));
  });
  return rows.sort((a, b) => a.x - b.x);
}

const ZERO = { top: 0, right: 0, bottom: 0, left: 0 };
const TICK_FONT = { fontSize: 6.5, fill: '#444', fontFamily: 'DejaVu Sans' };
const FRAME = { stroke: '#111', strokeWidth: 1 };

function frameAxes(col: number, row: number | null, bottomLabels: boolean, leftLabels: boolean, lw: number) {
  const xt = TICKS[col];
  const yt = row === null ? [0.5] : TICKS[row];
  const ydom = row === null ? [0, 1.1] : DOMAINS[row];
  const yTicks = row !== null;
  return [
    <XAxis key="xb" xAxisId="b" dataKey="x" type="number" domain={DOMAINS[col]} allowDataOverflow ticks={xt} interval={0}
      height={bottomLabels ? 30 : 1} tickSize={-3} tickMargin={bottomLabels ? 8 : 0} axisLine={FRAME} tickLine={FRAME}
      tick={bottomLabels ? TICK_FONT : false} tickFormatter={(_v: any, i: number) => X_TICK_LABELS[col][i]} />,
    <XAxis key="xt" xAxisId="t" dataKey="x" type="number" orientation="top" domain={DOMAINS[col]} allowDataOverflow ticks={xt} interval={0}
      height={1} tickSize={-3} axisLine={FRAME} tickLine={FRAME} tick={false} />,
    <YAxis key="yl" yAxisId="l" type="number" domain={ydom} allowDataOverflow ticks={yt} interval={0}
      width={lw} tickSize={-3} tickMargin={leftLabels ? 11 : 0} axisLine={FRAME} tickLine={yTicks ? FRAME : false}
      tick={leftLabels ? TICK_FONT : false} tickFormatter={(_v: any, i: number) => (row === null ? '' : Y_TICK_LABELS[row][i])} />,
    <YAxis key="yr" yAxisId="r" type="number" orientation="right" domain={ydom} allowDataOverflow ticks={yt} interval={0}
      width={1} tickSize={-3} axisLine={FRAME} tickLine={yTicks ? FRAME : false} tick={false} />,
  ];
}

function Joint({ row, col, contours }: { row: number; col: number; contours: Contours }) {
  const rows = mergeContours(contours);
  const bottom = row === 7;
  const left = col === 0;
  const lw = left ? 40 : 1;
  const w = COL_X[col + 1] - COL_X[col];
  const h = ROW_Y[row + 1] - ROW_Y[row];
  const layers = bottom ? LOWER_LAYERS : UPPER_LAYERS;
  return (
    <div style={{ position: 'absolute', left: COL_X[col] - lw, top: ROW_Y[row] - 1 }}>
      <ComposedChart width={w + lw + 1} height={h + 1 + (bottom ? 30 : 1)} data={rows} margin={ZERO}>
        {layers.filter((l) => contours[l.key]).map((l) => (
          <Area key={l.key} xAxisId="b" yAxisId="l" dataKey={l.key} type={l.curve as any} connectNulls
            fill={l.fill} fillOpacity={l.op} stroke={l.stroke} strokeWidth={l.key === 'b2' && !bottom ? 1.1 : 0.7}
            dot={false} activeDot={false} isAnimationActive={false} />
        ))}
        {frameAxes(col, row, bottom, left, lw)}
      </ComposedChart>
    </div>
  );
}

function Marginal({ idx }: { idx: number }) {
  const [xs, b, r, g] = MARGINALS[idx];
  const rows = xs.map((x, i) => ({ x, b: b[i], r: r[i], g: g[i] }));
  const bottom = idx === 7;
  const w = COL_X[idx + 1] - COL_X[idx];
  const h = ROW_Y[idx + 1] - ROW_Y[idx];
  return (
    <div style={{ position: 'absolute', left: COL_X[idx] - 1, top: ROW_Y[idx] - 1 }}>
      <LineChart width={w + 2} height={h + 1 + (bottom ? 30 : 1)} data={rows} margin={ZERO}>
        {(['b', 'r', 'g'] as const).map((k) => (
          <Line key={k} xAxisId="b" yAxisId="l" dataKey={k} type="monotone" stroke={SERIES_COLORS[k]}
            strokeWidth={1.1} dot={false} activeDot={false} isAnimationActive={false} />
        ))}
        {frameAxes(idx, null, bottom, false, 1)}
      </LineChart>
    </div>
  );
}

const Sub = ({ children }: { children: React.ReactNode }) => (
  <span style={{ fontSize: '0.7em', verticalAlign: '-0.3em' }}>{children}</span>
);

const PARAM_TITLES: React.ReactNode[] = [
  <>Ω<Sub>m</Sub></>,
  <><i>S</i><Sub>8</Sub></>,
  <><i>σ</i><Sub>8</Sub></>,
  <><i>H</i><Sub>0</Sub></>,
  <><i>r</i><Sub>drag</Sub></>,
  <i>w</i>,
  <>Ω<Sub><i>K</i></Sub></>,
  <><i>fm</i><Sub><i>χ′</i></Sub><i>/m</i><Sub><i>χ</i></Sub></>,
];

function InsetChart() {
  const rows = mergeContours({ o2: ins_o2, o1: ins_o1, c2: ins_c2, c1: ins_c1, k2: ins_k2, k1: ins_k1 });
  const layers = [
    { key: 'o2', fill: '#ffa500', op: 0.5 },
    { key: 'o1', fill: '#ffa500', op: 0.92 },
    { key: 'c2', fill: '#00bfff', op: 0.45 },
    { key: 'c1', fill: '#00bfff', op: 0.9 },
    { key: 'k2', fill: '#555555', op: 0.45 },
    { key: 'k1', fill: '#555555', op: 0.75 },
  ];
  const tickFont = { fontSize: 18, fill: '#222', fontFamily: 'DejaVu Serif' };
  const spine = { stroke: '#222', strokeWidth: 1.2 };
  return (
    <div style={{ position: 'absolute', left: 736, top: 225 }}>
      <ComposedChart width={485} height={393} data={rows} margin={{ top: 11, right: 10, bottom: 0, left: 0 }}>
        {layers.map((l) => (
          <Area key={l.key} xAxisId="b" yAxisId="l" dataKey={l.key} type="monotone" connectNulls
            fill={l.fill} fillOpacity={l.op} stroke="none" dot={false} activeDot={false} isAnimationActive={false} />
        ))}
        <XAxis xAxisId="b" dataKey="x" type="number" domain={[66, 74]} allowDataOverflow ticks={INSET_X_TICKS} interval={0}
          height={60} tickSize={6} tickMargin={3} axisLine={spine} tickLine={spine} tick={tickFont} />
        <XAxis xAxisId="t" dataKey="x" type="number" orientation="top" domain={[66, 74]} allowDataOverflow ticks={INSET_X_TICKS}
          height={1} tick={false} tickLine={false} axisLine={spine} />
        <YAxis yAxisId="l" type="number" domain={[0, 800]} allowDataOverflow ticks={INSET_Y_TICKS} interval={0}
          width={80} tickSize={6} tickMargin={2} axisLine={spine} tickLine={spine} tick={tickFont} />
      </ComposedChart>
    </div>
  );
}

const TRI_LEGEND = [
  { color: '#00008b', exp: '5' },
  { color: '#ff0000', exp: '6' },
  { color: '#008000', exp: '7' },
];
const INSET_LEGEND = [
  { color: '#ffa500', exp: '5' },
  { color: '#00bfff', exp: '6' },
  { color: '#6b6b6b', exp: '7' },
];

export default function App() {
  const abs = (s: React.CSSProperties): React.CSSProperties => ({ position: 'absolute', ...s });
  return (
    <div style={{ position: 'absolute', left: 0, top: 0, width: 1056, height: 1064, overflow: 'hidden', background: '#fff', fontFamily: 'DejaVu Sans' }}>
      {/* slide title */}
      <div style={abs({ left: 589, top: 33, fontFamily: 'Liberation Sans', fontWeight: 700, fontSize: 68, lineHeight: 1, color: '#a81e0a', whiteSpace: 'nowrap' })}>
        Constraining the
      </div>
      <div style={abs({ left: 608, top: 113, fontFamily: 'Liberation Sans', fontWeight: 700, fontSize: 68, lineHeight: 1, color: '#a81e0a', whiteSpace: 'nowrap' })}>
        non-thermal production
      </div>

      {/* triangle plot */}
      {JOINTS.map(([r, c, data]) => (
        <Joint key={`${r}-${c}`} row={r} col={c} contours={data} />
      ))}
      {MARGINALS.map((_, i) => (
        <Marginal key={i} idx={i} />
      ))}

      {/* axis titles */}
      {PARAM_TITLES.map((t, i) => (
        <div key={`xt${i}`} style={abs({ left: COL_X[i], width: COL_X[i + 1] - COL_X[i], top: 1045, textAlign: 'center', fontSize: 10, lineHeight: '14px', color: '#333' })}>
          {t}
        </div>
      ))}
      {PARAM_TITLES.map((t, i) => (i === 0 ? null : (
        <div key={`yt${i}`} style={abs({ left: 13 - 60, top: (ROW_Y[i] + ROW_Y[i + 1]) / 2 - 7, width: 120, textAlign: 'center', fontSize: 10, lineHeight: '14px', color: '#333', transform: 'rotate(-90deg)' })}>
          {t}
        </div>
      )))}

      {/* triangle legend */}
      <div style={abs({ left: 482, top: 6, width: 94, height: 58, border: '1px solid #d9d9d9', borderRadius: 3, background: '#fff', boxSizing: 'border-box' })}>
        {TRI_LEGEND.map((e, i) => (
          <div key={i} style={abs({ left: 3, top: 6 + i * 18, height: 10, display: 'flex', alignItems: 'center', whiteSpace: 'nowrap' })}>
            <div style={{ width: 26, height: 9, background: e.color }} />
            <div style={{ marginLeft: 9, fontSize: 11, color: '#222', lineHeight: '10px' }}>
              τ = 10<sup style={{ fontSize: 7, verticalAlign: '4px' }}>{e.exp}</sup>s
            </div>
          </div>
        ))}
      </div>

      {/* inset */}
      <InsetChart />
      <div style={abs({ left: 823, top: 245, width: 102, height: 55, border: '1px solid #d6d6d6', borderRadius: 4, background: '#fff', boxSizing: 'border-box' })}>
        {INSET_LEGEND.map((e, i) => (
          <div key={i} style={abs({ left: 4, top: 4 + i * 15, height: 13, display: 'flex', alignItems: 'center', whiteSpace: 'nowrap' })}>
            <div style={{ width: 32, height: 12, background: e.color }} />
            <div style={{ marginLeft: 9, fontFamily: 'DejaVu Serif', fontSize: 12, color: '#222', lineHeight: '12px' }}>
              <i>τ</i> = 10<sup style={{ fontSize: 8, verticalAlign: '5px' }}>{e.exp}</sup>
            </div>
          </div>
        ))}
      </div>
      <div style={abs({ left: 930, top: 237, fontFamily: 'DejaVu Serif', fontSize: 21, lineHeight: 1, color: '#222', whiteSpace: 'nowrap' })}>
        Phantom-like
      </div>
      <div style={abs({ left: 840, top: 336, fontFamily: 'Liberation Sans', fontWeight: 700, fontSize: 23, lineHeight: 1, color: '#111' })}>
        Previous
      </div>
      <div style={abs({ left: 751 - 100, top: 397 - 16, width: 200, textAlign: 'center', fontFamily: 'DejaVu Serif', fontStyle: 'italic', fontSize: 27, lineHeight: '32px', color: '#222', transform: 'rotate(-90deg)', whiteSpace: 'nowrap', letterSpacing: 1 })}>
        f m<Sub>χ′</Sub>/m<Sub>χ</Sub>
      </div>
      <div style={abs({ left: 957, top: 598, fontFamily: 'DejaVu Serif', fontSize: 22, lineHeight: 1, color: '#222', whiteSpace: 'nowrap' })}>
        <i>H</i><Sub>0</Sub> [<i>km s</i><sup style={{ fontSize: 13 }}>−1</sup> <i>Mpc</i><sup style={{ fontSize: 13 }}>−1</sup>]
      </div>

      <div style={abs({ left: 0, top: 1059, width: 1056, height: 3, background: '#c9c9c9' })} />
    </div>
  );
}
